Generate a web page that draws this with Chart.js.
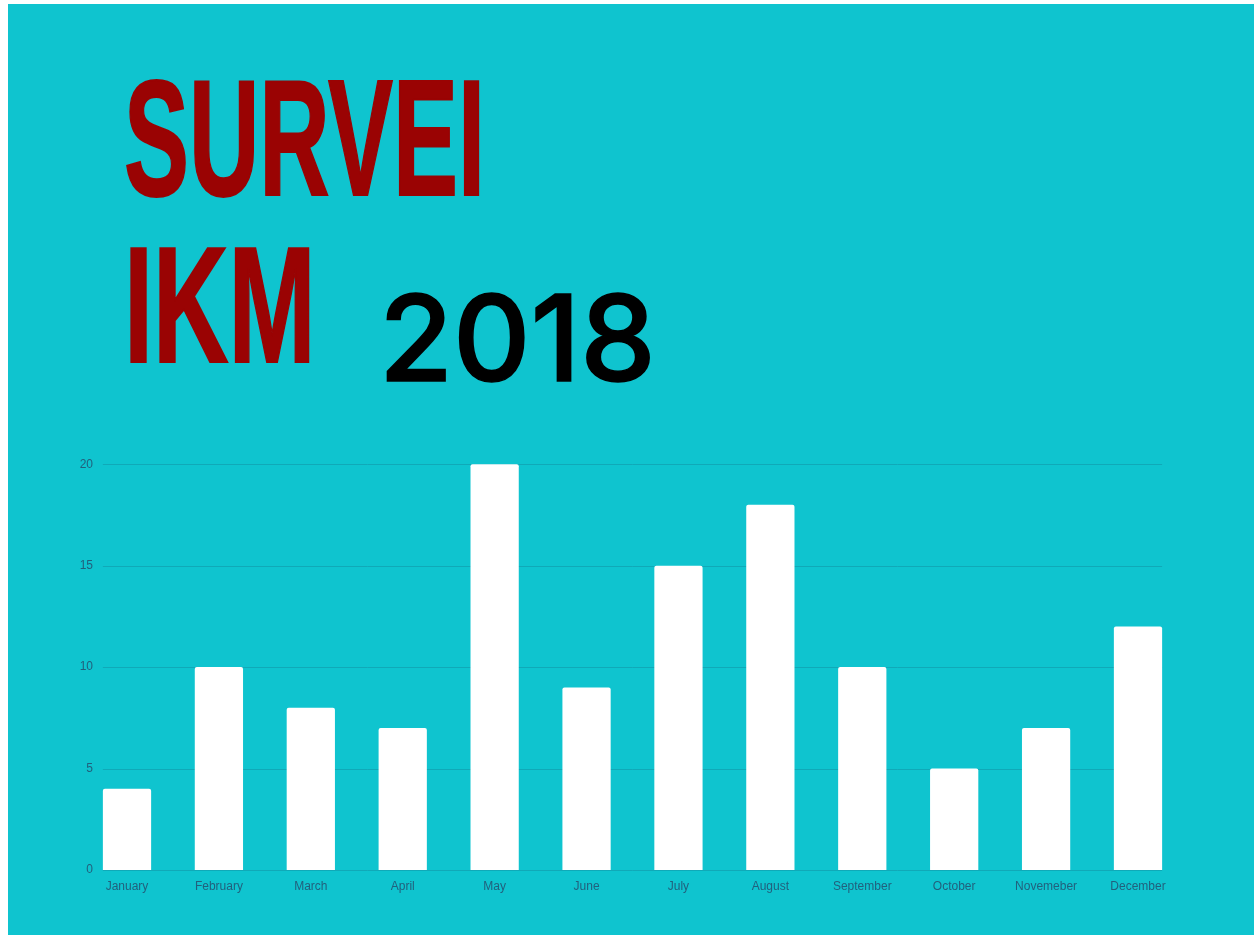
<!DOCTYPE html>
<html>
<head>
<meta charset="utf-8">
<script src="https://cdn.jsdelivr.net/npm/chart.js@4"></script>
<style>
  html, body { margin: 0; padding: 0; background: #ffffff; }
  body { width: 1254px; height: 935px; position: relative; overflow: hidden; }
  #panel { position: absolute; left: 8px; top: 4px; right: 0; bottom: 0; background: #0fc4cf; }
  .title { position: absolute; font-family: "Liberation Sans", Arial, sans-serif; font-weight: bold;
           color: #9a0303; font-size: 166px; line-height: 1; transform-origin: 0 0;
           -webkit-text-stroke: 2px #9a0303; white-space: nowrap; }
  #year { position: absolute; font-family: Inter, sans-serif; font-weight: 500; color: #000;
          font-size: 120px; line-height: 1; transform-origin: 0 0; transform: scaleX(1.0);
          -webkit-text-stroke: 1.5px #000; white-space: nowrap; }
  #wrap { position: absolute; left: 0; top: 423px; width: 1254px; height: 512px; }
</style>
</head>
<body>
<div id="panel"></div>
<div class="title" style="left:124px; top:55px; transform: scaleX(0.587);">SURVEI</div>
<div class="title" style="left:124px; top:222px; transform: scaleX(0.63);">IKM</div>
<div id="year" style="left:379px; top:278px;">2018</div>
<div id="wrap"><canvas id="ikmChart" width="1254" height="512"></canvas></div>
<script>
const months = ['January', 'February', 'March', 'April', 'May', 'June', 'July', 'August',
    'September', 'October', 'Novemeber', 'December'];
const responses = [4, 10, 8, 7, 20, 9, 15, 18, 10, 5, 7, 12];
const yTicks = [0, 5, 10, 15, 20];

// gridlines only span the bars, like the original
const barGrid = {
    id: 'barGrid',
    beforeDatasetsDraw(chart) {
        const bars = chart.getDatasetMeta(0).data;
        const first = bars[0], last = bars[bars.length - 1];
        const x0 = first.x - first.width / 2;
        const x1 = last.x + last.width / 2;
        const y = chart.scales.y;
        const c = chart.ctx;
        c.save();
        c.strokeStyle = '#10a9b8';
        c.lineWidth = 1;
        yTicks.forEach((v) => {
            const py = Math.round(y.getPixelForValue(v)) + 0.5;
            c.beginPath();
            c.moveTo(x0, py);
            c.lineTo(x1, py);
            c.stroke();
        });
        c.restore();
    },
};

Chart.defaults.font.family = '"Liberation Sans", Arial, sans-serif';
Chart.defaults.font.size = 12;
Chart.defaults.color = '#22607d';

const ctx = document.getElementById('ikmChart').getContext('2d');
new Chart(ctx, {
    type: 'bar',
    data: {
        labels: months,
        datasets: [{
            data: responses,
            backgroundColor: '#ffffff',
            borderRadius: 2,
            barPercentage: 0.75,
            categoryPercentage: 0.7,
            clip: false, // first and last bars hang past the chart area
        }],
    },
    options: {
        responsive: false,
        animation: false,
        devicePixelRatio: 1,
        layout: {padding: {left: 60, right: 116, top: 0, bottom: 35}},
        plugins: {legend: {display: false}, tooltip: {enabled: false}},
        scales: {
            x: {
                offset: false,
                grid: {display: false, drawTicks: false},
                border: {display: false},
                ticks: {padding: 9, maxRotation: 0, autoSkip: false},
                afterFit: (s) => { s.height = 30; },
            },
            y: {
                min: 0,
                max: 20,
                grid: {display: false, drawTicks: false},
                border: {display: false},
                afterBuildTicks: (s) => { s.ticks = yTicks.map((v) => ({value: v})); },
                ticks: {padding: 34},
                afterFit: (s) => { s.width = 67; },
            },
        },
    },
    plugins: [barGrid],
});
</script>
</body>
</html>
